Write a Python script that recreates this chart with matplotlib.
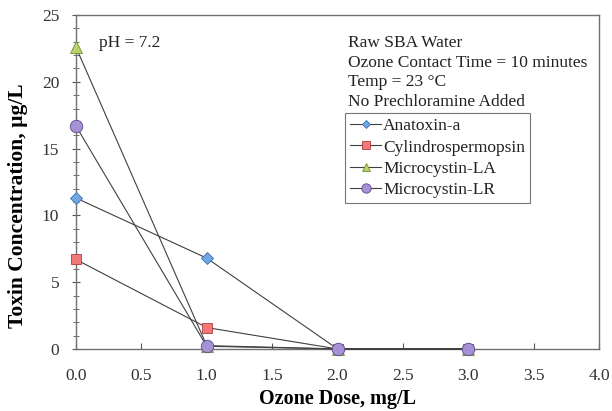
import matplotlib.pyplot as plt
from matplotlib.ticker import MultipleLocator

plt.rcParams["font.family"] = ["Liberation Serif", "DejaVu Serif"]

dose = [0.0, 1.0, 2.0, 3.0]
anatoxin = [11.3, 6.8, 0.0, 0.0]
cylindro = [6.7, 1.6, 0.0, 0.0]
mc_la = [22.6, 0.25, 0.0, 0.0]
mc_lr = [16.7, 0.2, 0.0, 0.0]

series = [
    ("Anatoxin-a", anatoxin, "D", "#6fa8e0", "#3a6fb0", 6),
    ("Cylindrospermopsin", cylindro, "s", "#f07a7a", "#b03a3a", 7),
    ("Microcystin-LA", mc_la, "^", "#b8d46c", "#6f8f30", 8),
    ("Microcystin-LR", mc_lr, "o", "#a690d6", "#5a4a8a", 9),
]

fig = plt.figure(figsize=(6.12, 4.11), dpi=100)
ax = fig.add_axes([0.124, 0.151, 0.855, 0.8125])

for name, vals, mk, fc, ec, ms in series:
    ax.plot(dose, vals, color="#404040", linewidth=0.8, marker=mk,
            markersize=ms, markerfacecolor=fc, markeredgecolor=ec,
            markeredgewidth=0.6, label=name, clip_on=False, zorder=3)

ax.set_xlim(0, 4)
ax.set_ylim(0, 25)
ax.xaxis.set_major_locator(MultipleLocator(0.5))
ax.yaxis.set_major_locator(MultipleLocator(5))
ax.yaxis.set_minor_locator(MultipleLocator(1))
ax.tick_params(axis="x", direction="in", length=4, labelsize=12.5, pad=14,
               color="#555555", labelcolor="#333333")
ax.tick_params(axis="y", which="major", direction="inout", length=6,
               labelsize=12.5, pad=9, color="#555555", labelcolor="#333333")
ax.tick_params(axis="y", which="minor", direction="inout", length=4, color="#555555")
ax.xaxis.set_major_formatter(plt.FuncFormatter(lambda v, p: f"{v:.1f}"))

for s in ax.spines.values():
    s.set_color("#707070")
    s.set_linewidth(1.0)

ax.set_xlabel("Ozone Dose, mg/L", fontsize=14.5, fontweight="bold")
ax.set_ylabel("Toxin Concentration, µg/L", fontsize=15.5, fontweight="bold")
ax.xaxis.set_label_coords(0.5, -0.12)
ax.yaxis.set_label_coords(-0.092, 0.43)

ax.text(0.18, 22.9, "pH = 7.2", fontsize=12.5, va="center", color="#222222")
ax.text(2.08, 23.5,
        "Raw SBA Water\nOzone Contact Time = 10 minutes\nTemp = 23 °C\nNo Prechloramine Added",
        fontsize=12.5, va="top", linespacing=1.3, color="#222222")

leg = ax.legend(loc="upper left", bbox_to_anchor=(0.514, 0.707), fontsize=12.5,
                frameon=True, fancybox=False, edgecolor="#555555",
                handlelength=1.8, handletextpad=0.1, borderpad=0.3,
                labelspacing=0.3, markerscale=0.75, borderaxespad=0)
leg.get_frame().set_linewidth(0.8)
for t in leg.get_texts():
    t.set_color("#222222")

fig.savefig("out.png", dpi=100)
